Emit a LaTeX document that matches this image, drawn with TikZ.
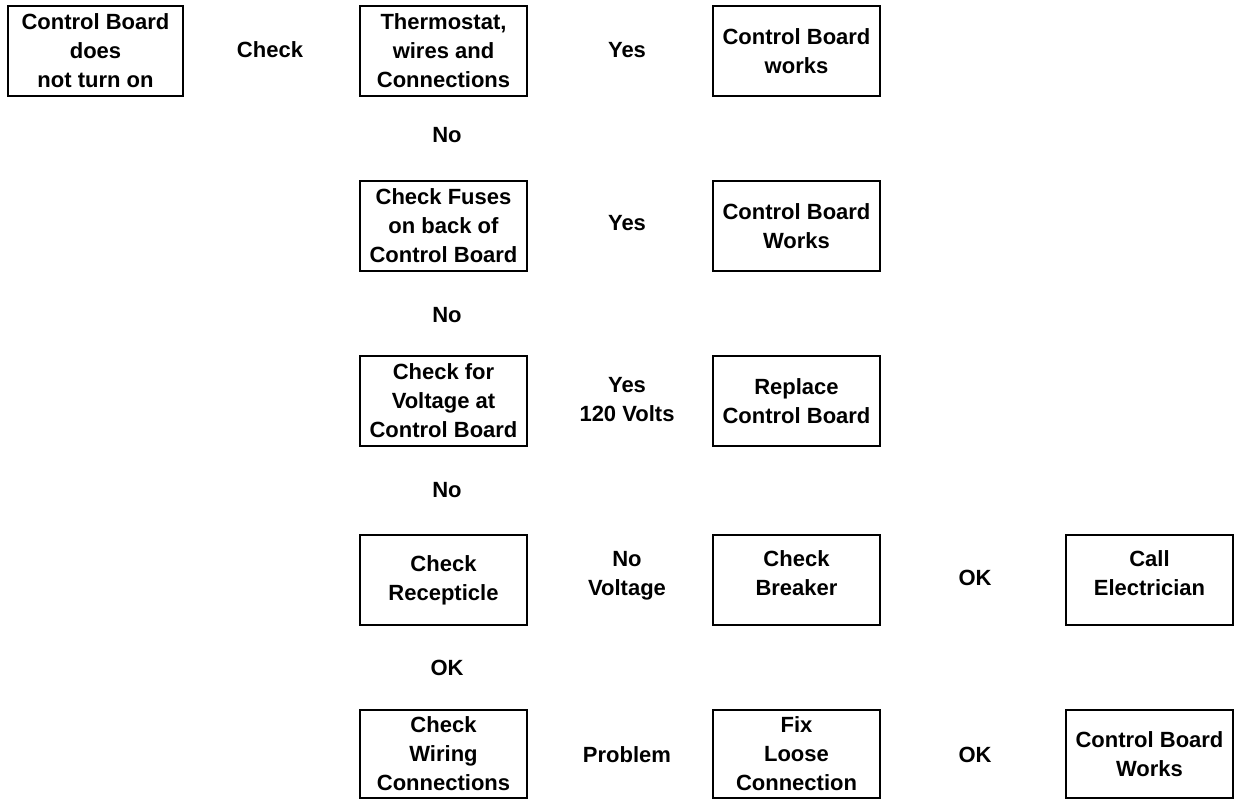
\documentclass[tikz,border=0pt]{standalone}
\usepackage{fontspec}
\setmainfont{Liberation Sans}
\begin{document}
\begin{tikzpicture}[x=1pt,y=-1pt,
  box/.style={draw, line width=1.6pt, minimum width=167pt, minimum height=90pt, inner sep=0pt, align=center, font=\fontsize{22}{29}\selectfont\bfseries},
  lbl/.style={align=center, inner sep=0pt, font=\fontsize{22}{29}\selectfont\bfseries}]
\useasboundingbox (0,0) rectangle (1243,800);
% boxes
\node[box, minimum width=175pt] (start) at (95.5,51) {Control Board\\does\\not turn on};
\node[box] (thermo) at (443.5,51) {Thermostat,\\wires and\\Connections};
\node[box] (works1) at (796.5,51) {Control Board\\works};
\node[box] (fuses) at (443.5,226) {Check Fuses\\on back of\\Control Board};
\node[box] (works2) at (796.5,226) {Control Board\\Works};
\node[box] (volt) at (443.5,401) {Check for\\Voltage at\\Control Board};
\node[box] (replace) at (796.5,401) {Replace\\Control Board};
\node[box] (recept) at (443.5,580) {Check\\Recepticle};
\node[box] (breaker) at (796.5,580) {};
\node[lbl] (breakertxt) at (796.5,573) {Check\\Breaker};
\node[box] (elec) at (1149.5,580) {};
\node[lbl] (electxt) at (1149.5,573) {Call\\Electrician};
\node[box, minimum height=88pt] (wiring) at (443.5,754) {Check\\Wiring\\Connections};
\node[box, minimum height=88pt] (loose) at (796.5,754) {Fix\\Loose\\Connection};
\node[box, minimum height=88pt] (works3) at (1149.5,754) {Control Board\\Works};
% labels
\node[lbl] (l1) at (270,50) {Check};
\node[lbl] (l2) at (627,50) {Yes};
\node[lbl] (l3) at (447,135) {No};
\node[lbl] (l4) at (627,223) {Yes};
\node[lbl] (l5) at (447,315) {No};
\node[lbl] (l6) at (627,400) {Yes\\120 Volts};
\node[lbl] (l7) at (447,490) {No};
\node[lbl] (l8) at (627,576) {No\\Voltage};
\node[lbl] (l9) at (975,578) {OK};
\node[lbl] (l10) at (447,668) {OK};
\node[lbl] (l11) at (627,755) {Problem};
\node[lbl] (l12) at (975,755) {OK};
\end{tikzpicture}
\end{document}
